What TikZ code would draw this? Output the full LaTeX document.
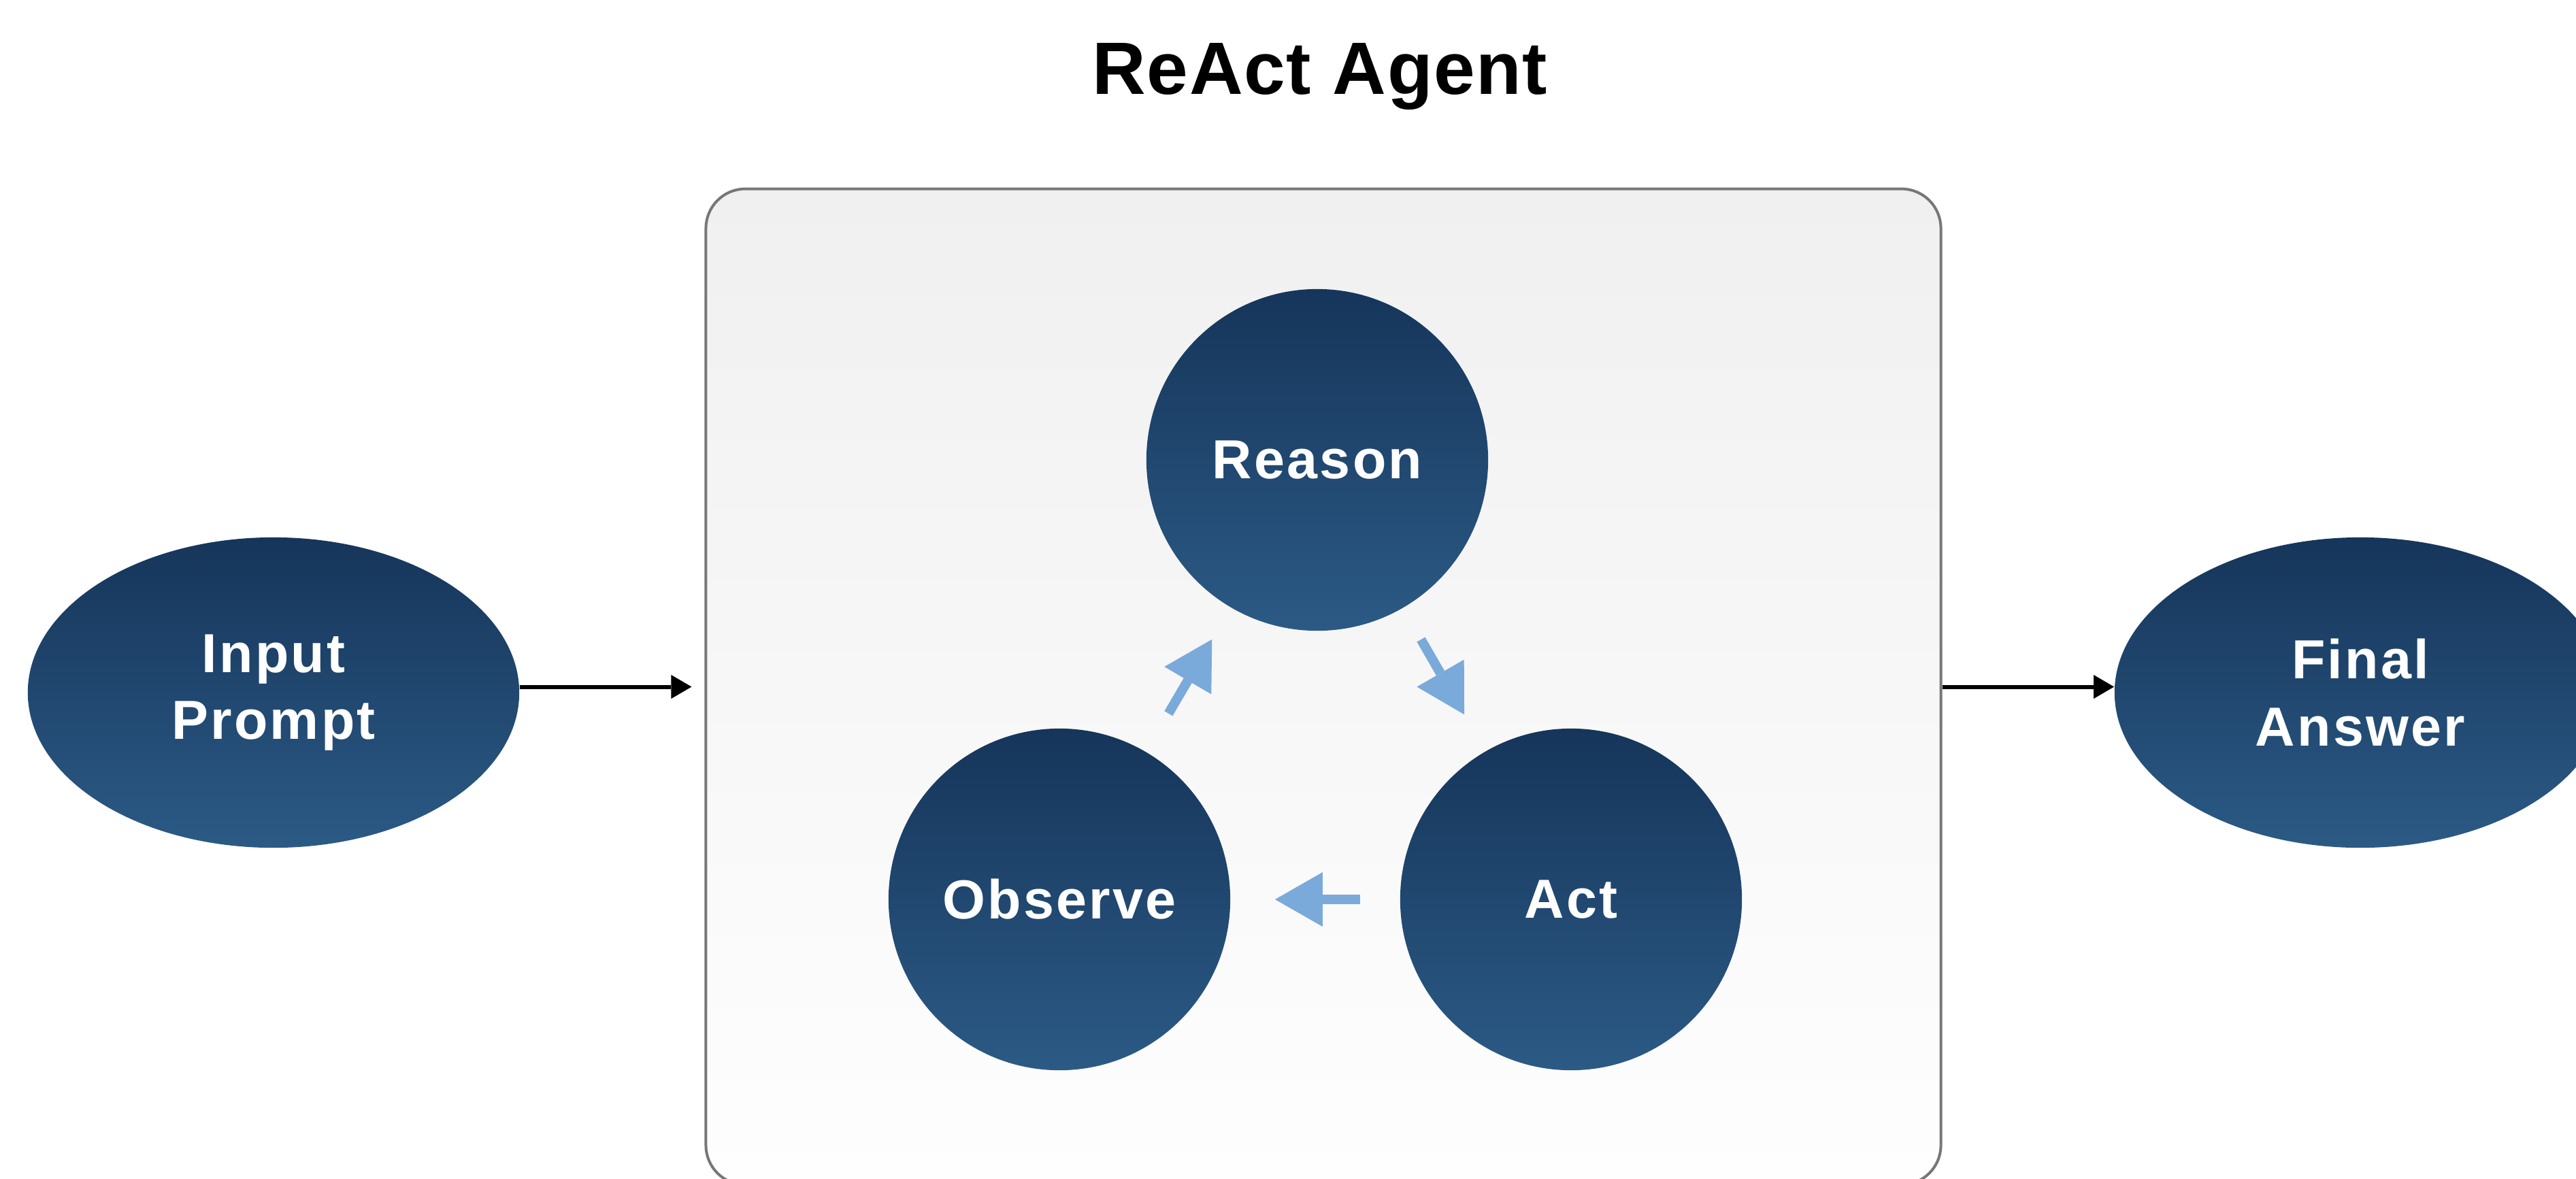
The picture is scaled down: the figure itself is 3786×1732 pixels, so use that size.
\documentclass[tikz,border=0pt]{standalone}
\usepackage{fontspec}
\setmainfont{Liberation Sans}
\newfontfamily\lblfont{Liberation Sans}[LetterSpace=4]
\newfontfamily\ttlfont{Liberation Sans}[LetterSpace=1.5]
\usetikzlibrary{shapes.geometric,arrows.meta}
\definecolor{navytop}{HTML}{16355A}
\definecolor{navybot}{HTML}{2B5A85}
\definecolor{boxtop}{HTML}{F0F0F0}
\definecolor{boxbot}{HTML}{FEFEFE}
\definecolor{boxline}{HTML}{777777}
\definecolor{cyc}{HTML}{7AAAD9}
\begin{document}
\begin{tikzpicture}[x=0.01cm,y=-0.01cm,
  stage/.style={circle, minimum size=5.02cm, inner sep=0pt,
    top color=navytop, bottom color=navybot, text=white,
    font=\lblfont\bfseries\fontsize{23}{28}\selectfont},
  endpt/.style={ellipse, minimum width=7.22cm, minimum height=4.56cm, inner sep=0pt,
    top color=navytop, bottom color=navybot, text=white, align=center,
    font=\lblfont\bfseries\fontsize{23}{28}\selectfont},
  agentbox/.style={draw=boxline, line width=0.04cm, rounded corners=0.58cm,
    top color=boxtop, bottom color=boxbot, inner sep=0pt},
  cyclearrow/.style={draw=cyc, line width=0.14cm,
    -{Triangle[length=0.70cm,width=0.80cm,line width=0pt,fill=cyc]}},
  flowarrow/.style={draw=black, line width=0.06cm,
    -{Triangle[length=0.30cm,width=0.35cm,line width=0pt]}}]
\path[use as bounding box] (0,0) rectangle (3786,1732);
\clip (0,0) rectangle (3786,1732);

% title
\node[anchor=base, inner sep=0pt, font=\ttlfont\bfseries\fontsize{31}{37}\selectfont] (title) at (1940,138) {ReAct Agent};

% agent container
\node[agentbox, minimum width=18.14cm, minimum height=14.63cm] (agent) at (1945,1009.5) {};

% loop stages
\node[stage] (rea) at (1936,676) {Reason};
\node[stage] (obs) at (1557,1322) {Observe};
\node[stage] (act) at (2309,1322) {Act};

% input / output
\node[endpt] (inp) at (402,1018) {Input\\Prompt};
\node[endpt] (fin) at (3469,1018) {Final\\Answer};

% cycle arrows
\draw[cyclearrow, shorten <=0.65cm, shorten >=0.54cm] (obs) -- (rea);
\draw[cyclearrow, shorten <=0.53cm, shorten >=0.62cm] (rea) -- (act);
\draw[cyclearrow, shorten <=0.58cm, shorten >=0.65cm] (act) -- (obs);

% flow arrows
\draw[flowarrow, shorten >=0.19cm] (inp.east |- agent.center) -- (agent.west);
\draw[flowarrow] (agent.east) -- (fin.west |- agent.east);
\end{tikzpicture}
\end{document}
